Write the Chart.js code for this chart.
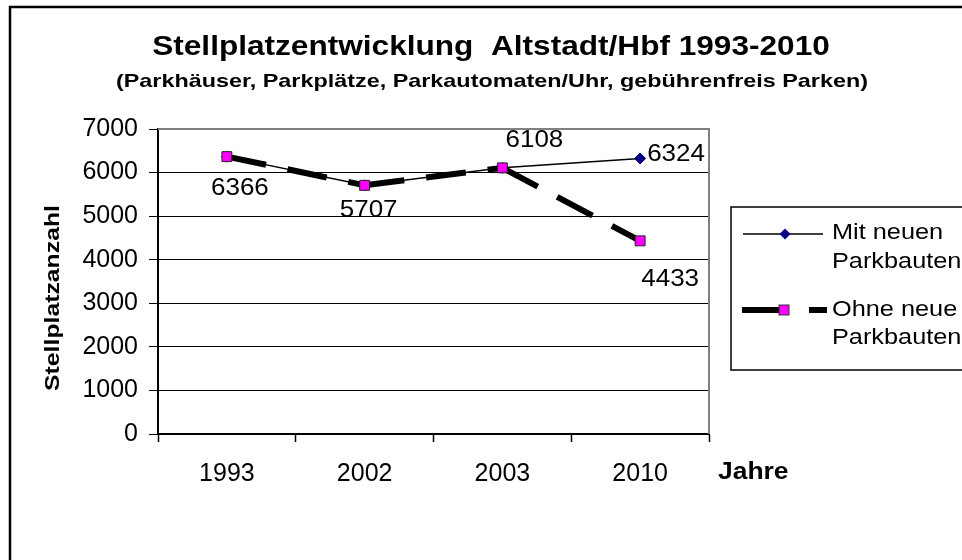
<!DOCTYPE html>
<html>
<head>
<meta charset="utf-8">
<script src="https://cdn.jsdelivr.net/npm/chart.js@4.4.1/dist/chart.umd.min.js"></script>
<style>
  body { margin: 0; background: #fff; }
</style>
</head>
<body>
<canvas id="chart" width="962" height="560"></canvas>
<script>
const years = ['1993', '2002', '2003', '2010']
const mitNeuen = [6366, 5707, 6108, 6324]
const ohneNeue = [6366, 5707, 6108, 4433]
const yTicks = [0, 1000, 2000, 3000, 4000, 5000, 6000, 7000]

const titleText = 'Stellplatzentwicklung  Altstadt/Hbf 1993-2010'
const subText = '(Parkhäuser, Parkplätze, Parkautomaten/Uhr, gebührenfreis Parken)'
const yTitle = 'Stellplatzanzahl'
const xTitle = 'Jahre'
const legendMit = ['Mit neuen', 'Parkbauten']
const legendOhne = ['Ohne neue', 'Parkbauten']

const FONT = '"Liberation Sans", Arial, sans-serif'

// draw text stretched a bit wider, like the excel original
const wideText = (ctx, txt, x, y, font, align, sx) => {
    ctx.save()
    ctx.font = font
    ctx.fillStyle = '#000'
    ctx.textBaseline = 'middle'
    ctx.textAlign = align
    ctx.translate(x, y)
    ctx.scale(sx, 1)
    ctx.fillText(txt, 0, 0)
    ctx.restore()
}

const decorations = {
    id: 'decorations',
    beforeDraw(chart) {
        const ctx = chart.ctx
        ctx.save()
        ctx.fillStyle = '#fff'
        ctx.fillRect(0, 0, chart.width, chart.height)
        // outer frame
        ctx.strokeStyle = '#000'
        ctx.lineWidth = 2.5
        ctx.strokeRect(10, 7, 1100, 700)
        ctx.restore()
    },
    beforeDatasetsDraw(chart) {
        const ctx = chart.ctx
        const a = chart.chartArea
        ctx.save()
        ctx.strokeStyle = '#808080'
        ctx.lineWidth = 2
        ctx.beginPath()
        ctx.moveTo(a.left, a.top)
        ctx.lineTo(a.right, a.top)
        ctx.lineTo(a.right, a.bottom)
        ctx.stroke()
        ctx.restore()
    },
    afterDatasetsDraw(chart) {
        const ctx = chart.ctx
        const mit = chart.getDatasetMeta(0).data
        const ohne = chart.getDatasetMeta(1).data
        const f = `23px ${FONT}`
        wideText(ctx, String(mitNeuen[0]), mit[0].x + 13, mit[0].y + 32, f, 'center', 1.13)
        wideText(ctx, String(mitNeuen[1]), mit[1].x + 4, mit[1].y + 25, f, 'center', 1.13)
        wideText(ctx, String(mitNeuen[2]), mit[2].x + 32, mit[2].y - 27, f, 'center', 1.13)
        wideText(ctx, String(mitNeuen[3]), mit[3].x + 7, mit[3].y - 4, f, 'left', 1.13)
        wideText(ctx, String(ohneNeue[3]), ohne[3].x + 30, ohne[3].y + 39, f, 'center', 1.13)
    },
    afterDraw(chart) {
        const ctx = chart.ctx
        wideText(ctx, titleText, 491, 48, `bold 27px ${FONT}`, 'center', 1.17)
        wideText(ctx, subText, 492, 82, `bold 19px ${FONT}`, 'center', 1.23)
        wideText(ctx, xTitle, 718, 473, `bold 23px ${FONT}`, 'left', 1.15)

        ctx.save()
        ctx.translate(53, 298)
        ctx.rotate(-Math.PI / 2)
        wideText(ctx, yTitle, 0, 0, `bold 21px ${FONT}`, 'center', 1.18)
        ctx.restore()

        // legend
        ctx.save()
        ctx.strokeStyle = '#000'
        ctx.lineWidth = 1.5
        ctx.strokeRect(731, 207, 300, 163)

        ctx.lineWidth = 1.5
        ctx.beginPath()
        ctx.moveTo(743, 234)
        ctx.lineTo(823, 234)
        ctx.stroke()
        ctx.fillStyle = '#000080'
        ctx.beginPath()
        ctx.moveTo(785, 228.5)
        ctx.lineTo(790.5, 234)
        ctx.lineTo(785, 239.5)
        ctx.lineTo(779.5, 234)
        ctx.closePath()
        ctx.fill()

        ctx.lineWidth = 6
        ctx.beginPath()
        ctx.moveTo(742, 310)
        ctx.lineTo(780, 310)
        ctx.moveTo(809, 310)
        ctx.lineTo(827, 310)
        ctx.stroke()
        ctx.fillStyle = '#ff00ff'
        ctx.strokeStyle = '#333'
        ctx.lineWidth = 1
        ctx.fillRect(779, 305, 10, 10)
        ctx.strokeRect(779, 305, 10, 10)
        ctx.restore()

        const lf = `22px ${FONT}`
        wideText(ctx, legendMit[0], 832, 233, lf, 'left', 1.15)
        wideText(ctx, legendMit[1], 832, 262, lf, 'left', 1.15)
        wideText(ctx, legendOhne[0], 832, 310, lf, 'left', 1.15)
        wideText(ctx, legendOhne[1], 832, 338, lf, 'left', 1.15)
    }
}

const ctx = document.getElementById('chart').getContext('2d')

new Chart(ctx, {
    type: 'line',
    data: {
        labels: years,
        datasets: [
            {
                label: 'Mit neuen Parkbauten',
                data: mitNeuen,
                borderColor: '#000',
                borderWidth: 1.5,
                pointStyle: 'rectRot',
                pointRadius: 5.5,
                pointBackgroundColor: '#000080',
                pointBorderColor: '#000080',
                pointBorderWidth: 1,
                tension: 0,
                order: 1
            },
            {
                label: 'Ohne neue Parkbauten',
                data: ohneNeue,
                borderColor: '#000',
                borderWidth: 6,
                borderDash: [40, 22],
                borderCapStyle: 'butt',
                // tiny different offsets split the path, so every segment starts with a dash
                segment: {
                    borderDashOffset: (c) => c.p0DataIndex * 0.01
                },
                pointStyle: 'rect',
                pointRadius: 7,
                pointBackgroundColor: '#ff00ff',
                pointBorderColor: '#222',
                pointBorderWidth: 1,
                tension: 0,
                order: 0
            }
        ]
    },
    options: {
        responsive: false,
        animation: false,
        events: [],
        layout: {
            padding: { left: 0, top: 129, right: 253, bottom: 0 }
        },
        plugins: {
            legend: { display: false },
            title: { display: false },
            tooltip: { enabled: false }
        },
        scales: {
            x: {
                offset: true,
                grid: {
                    offset: true,
                    drawOnChartArea: false,
                    drawTicks: true,
                    tickLength: 8,
                    tickColor: '#000',
                    tickWidth: 1.5
                },
                border: { color: '#000', width: 2 },
                ticks: {
                    color: '#000',
                    font: { family: FONT, size: 25 },
                    padding: 17,
                    maxRotation: 0
                },
                afterFit: (s) => { s.height = 126 }
            },
            y: {
                min: 0,
                max: 7000,
                afterBuildTicks: (s) => { s.ticks = yTicks.map(v => ({ value: v })) },
                grid: {
                    color: '#000',
                    lineWidth: 1,
                    tickLength: 9,
                    tickColor: '#000'
                },
                border: { color: '#000', width: 2 },
                ticks: {
                    color: '#000',
                    font: { family: FONT, size: 25 },
                    padding: 11,
                    callback: (v) => String(v)
                },
                afterFit: (s) => { s.width = 158 }
            }
        }
    },
    plugins: [decorations]
})
</script>
</body>
</html>
